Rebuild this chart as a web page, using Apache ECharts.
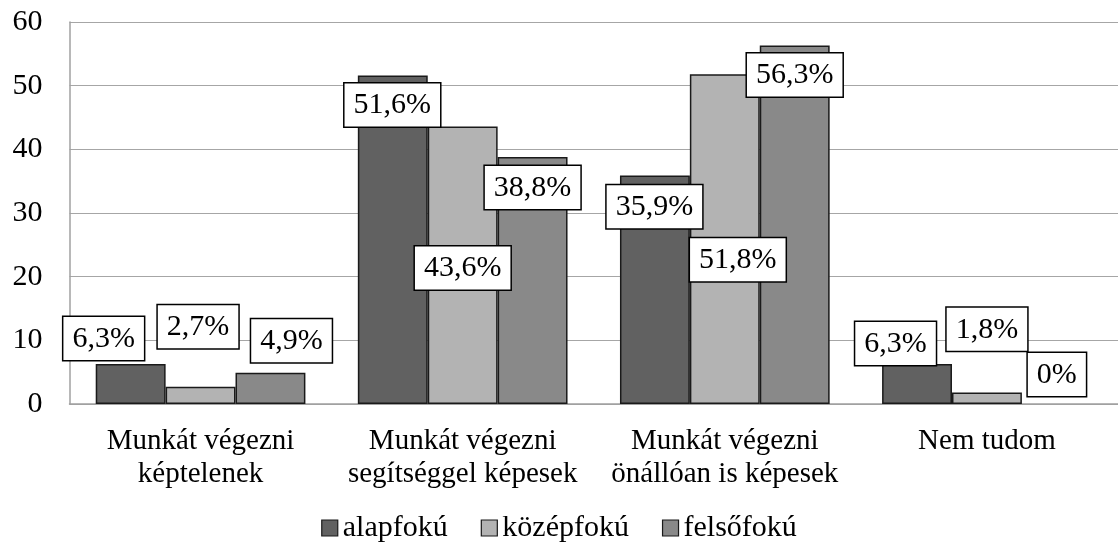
<!DOCTYPE html>
<html>
<head>
<meta charset="utf-8">
<script src="https://cdn.jsdelivr.net/npm/echarts@6/dist/echarts.min.js"></script>
<style>
  html, body { margin: 0; padding: 0; background: #fff; }
  #chart { width: 1118px; height: 551px; }
</style>
</head>
<body>
<div id="chart"></div>
<script>
// kategóriák és sorozatok
var categories = [
  'Munkát végezni\nképtelenek',
  'Munkát végezni\nsegítséggel képesek',
  'Munkát végezni\nönállóan is képesek',
  'Nem tudom'
];
var seriesNames = ['alapfokú', 'középfokú', 'felsőfokú'];
var alapfoku = [6.3, 51.6, 35.9, 6.3];
var kozepfoku = [2.7, 43.6, 51.8, 1.8];
var felsofoku = [4.9, 38.8, 56.3, 0];
var yTicks = [0, 10, 20, 30, 40, 50, 60];

// címkék eltolása (px), a kép alapján
var labelShift = [
  [[-27, -4], [-0.5, 51], [-0.5, 52.7], [-21.5, 1]],
  [[-2.5, -38.5], [0, 163], [13, 207], [0, -41.7]],
  [[21, -10.5], [0, 52], [0, 51], [0, -8]]
];
var colors = ['#616161', '#b3b3b3', '#898989'];
var font = 'Liberation Serif';

var chart = echarts.init(document.getElementById('chart'));

function makeSeries(idx, values) {
  return {
    name: seriesNames[idx],
    type: 'bar',
    barGap: 0,
    barCategoryGap: '20%',
    itemStyle: { color: colors[idx], borderColor: '#1a1a1a', borderWidth: 1.5 },
    data: values.map(function (v, i) {
      return {
        value: v,
        // 0 értékű oszlopnál ne legyen fekete vonal
        itemStyle: v === 0 ? { borderWidth: 0 } : undefined,
        label: { offset: labelShift[idx][i] }
      };
    }),
    label: {
      show: true,
      position: 'top',
      distance: 0,
      formatter: function (p) { return String(p.value).replace('.', ',') + '%'; },
      fontFamily: font,
      fontSize: 30,
      color: '#000',
      backgroundColor: '#fff',
      borderColor: '#000',
      borderWidth: 1.5,
      padding: [7, 9, 6, 9]
    }
  };
}

chart.setOption({
  animation: false,
  grid: { left: 69.5, top: 22, right: -9.5, bottom: 147, containLabel: false },
  legend: {
    data: seriesNames,
    left: 'center',
    top: 508,
    icon: 'rect',
    itemWidth: 16,
    itemHeight: 16,
    itemGap: 33,
    textStyle: { fontFamily: font, fontSize: 30, color: '#000' },
    itemStyle: { borderColor: '#1a1a1a', borderWidth: 1.2 }
  },
  xAxis: {
    type: 'category',
    data: categories,
    axisLine: { lineStyle: { color: '#a0a0a0', width: 1.5 } },
    axisTick: { show: false },
    axisLabel: {
      interval: 0,
      margin: 21,
      fontFamily: font,
      fontSize: 29,
      lineHeight: 33,
      color: '#000'
    }
  },
  yAxis: {
    type: 'value',
    min: yTicks[0],
    max: yTicks[yTicks.length - 1],
    interval: 10,
    axisLine: { show: true, lineStyle: { color: '#a0a0a0', width: 1.5 } },
    axisTick: { show: false },
    splitLine: { lineStyle: { color: '#a6a6a6', width: 1.2 } },
    axisLabel: { margin: 27, fontFamily: font, fontSize: 30, color: '#000' }
  },
  series: [
    makeSeries(0, alapfoku),
    makeSeries(1, kozepfoku),
    makeSeries(2, felsofoku)
  ]
});
</script>
</body>
</html>
